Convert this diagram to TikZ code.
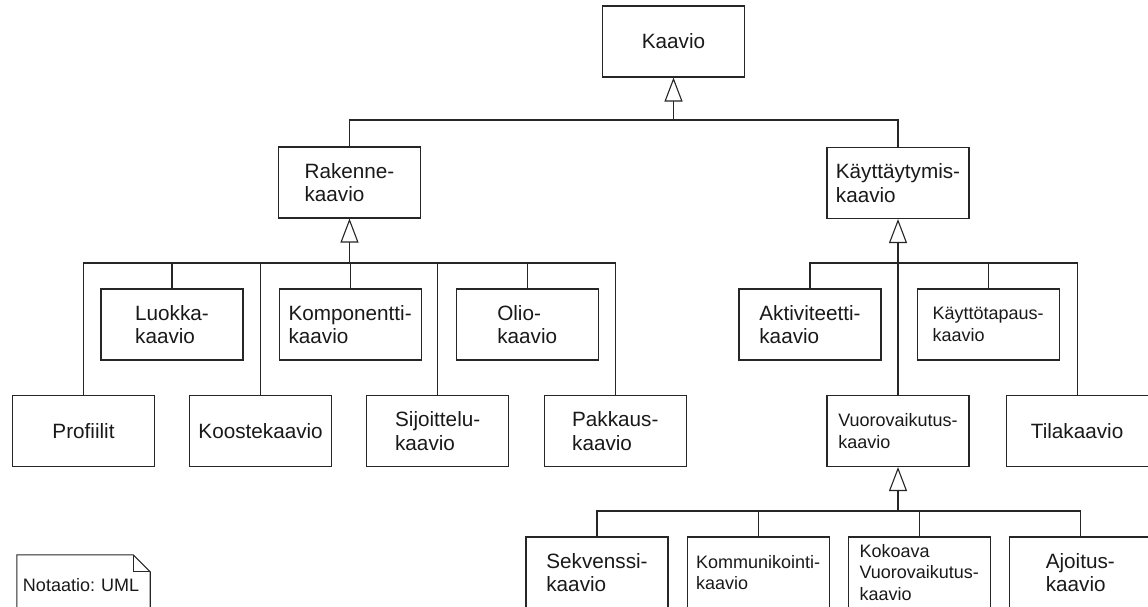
\documentclass[tikz,border=0pt]{standalone}
\usepackage{fontspec}
\setmainfont{Liberation Sans}
\usepackage{tikz}
\usetikzlibrary{positioning,arrows.meta}
\frenchspacing

\begin{document}
\begin{tikzpicture}[
  x=1pt, y=-1pt,
  box/.style={draw=black!85, rectangle, line width=1.1pt, minimum width=142pt, minimum height=71pt, inner sep=0pt, align=left, text=black!90, font=\fontsize{20.7}{23.3}\selectfont},
  smallbox/.style={box, font=\fontsize{18}{21.6}\selectfont},
  conn/.style={draw=black!85, line width=1.1pt},
  gen/.style={conn, -{Triangle[length=24pt, width=18pt, fill=white]}}
]
  \useasboundingbox (0,0) rectangle (1148,606);

  % Nodes
  \node[box] (kaavio) at (673.5,41.5) {Kaavio};
  \node[box] (rakenne) at (349.5,182.5) {Rakenne-\\kaavio};
  \node[box] (kaytt) at (898,183) {Käyttäytymis-\\kaavio};

  \node[box] (luokka) at (172,324.5) {Luokka-\\kaavio};
  \node[box, right=35pt of luokka] (komp) {Komponentti-\\kaavio};
  \node[box, right=34pt of komp] (olio) {Olio-\\kaavio};

  \node[box] (profiilit) at (83.5,431) {Profiilit};
  \node[box, right=34pt of profiilit] (kooste) {Koostekaavio};
  \node[box, right=34pt of kooste] (sijoittelu) {Sijoittelu-\\kaavio};
  \node[box, right=34.5pt of sijoittelu] (pakkaus) {Pakkaus-\\kaavio};

  \node[box] (aktiv) at (810,324.5) {Aktiviteetti-\\kaavio};
  \node[smallbox, right=35pt of aktiv] (kaytto) {Käyttötapaus-\\kaavio};

  \node[smallbox] (vuoro) at (898,431) {Vuorovaikutus-\\kaavio};
  \node[box, right=36pt of vuoro] (tila) {Tilakaavio};

  \node[box] (sekv) at (597,572.5) {Sekvenssi-\\kaavio};
  \node[smallbox, right=18pt of sekv] (kommu) {Kommunikointi-\\kaavio};
  \node[smallbox, right=18pt of kommu] (kokoava) {Kokoava\\Vuorovaikutus-\\kaavio};
  \node[box, right=18pt of kokoava] (ajoitus) {Ajoitus-\\kaavio};

  \node[text width=121pt, inner xsep=6pt, inner ysep=0pt, minimum height=60pt, align=left, text=black!90, font=\fontsize{18}{21}\selectfont] (notaatio) at (83.5,585) {Notaatio: UML};
  \draw[conn] (notaatio.south west) -- (notaatio.north west) -- ([xshift=-17pt]notaatio.north east) -- ([yshift=-17pt]notaatio.north east) -- (notaatio.south east);
  \draw[conn] ([xshift=-17pt]notaatio.north east) |- ([yshift=-17pt]notaatio.north east);

  % Bus points
  \coordinate (kaavio-bus) at (673.5,120);
  \coordinate (rakenne-bus) at (349.5,263);
  \coordinate (kaytt-bus) at (898,263);
  \coordinate (vuoro-bus) at (898,511);

  % Arrows
  \draw[gen] (kaavio-bus) -- (kaavio);
  \draw[conn] (rakenne.north) |- (kaavio-bus);
  \draw[conn] (kaytt.north) |- (kaavio-bus);

  \draw[gen] (rakenne-bus) -- (rakenne);
  \draw[conn] (profiilit.north) |- (rakenne-bus);
  \draw[conn] (luokka.north) |- (rakenne-bus);
  \draw[conn] (kooste.north) |- (rakenne-bus);
  \draw[conn] (komp.north) |- (rakenne-bus);
  \draw[conn] (sijoittelu.north) |- (rakenne-bus);
  \draw[conn] (olio.north) |- (rakenne-bus);
  \draw[conn] (pakkaus.north) |- (rakenne-bus);

  \draw[gen] (kaytt-bus) -- (kaytt);
  \draw[conn] (aktiv.north) |- (kaytt-bus);
  \draw[conn] (vuoro.north) -- (kaytt-bus);
  \draw[conn] (kaytto.north) |- (kaytt-bus);
  \draw[conn] (tila.north) |- (kaytt-bus);

  \draw[gen] (vuoro-bus) -- (vuoro);
  \draw[conn] (sekv.north) |- (vuoro-bus);
  \draw[conn] (kommu.north) |- (vuoro-bus);
  \draw[conn] (kokoava.north) |- (vuoro-bus);
  \draw[conn] (ajoitus.north) |- (vuoro-bus);
\end{tikzpicture}
\end{document}
